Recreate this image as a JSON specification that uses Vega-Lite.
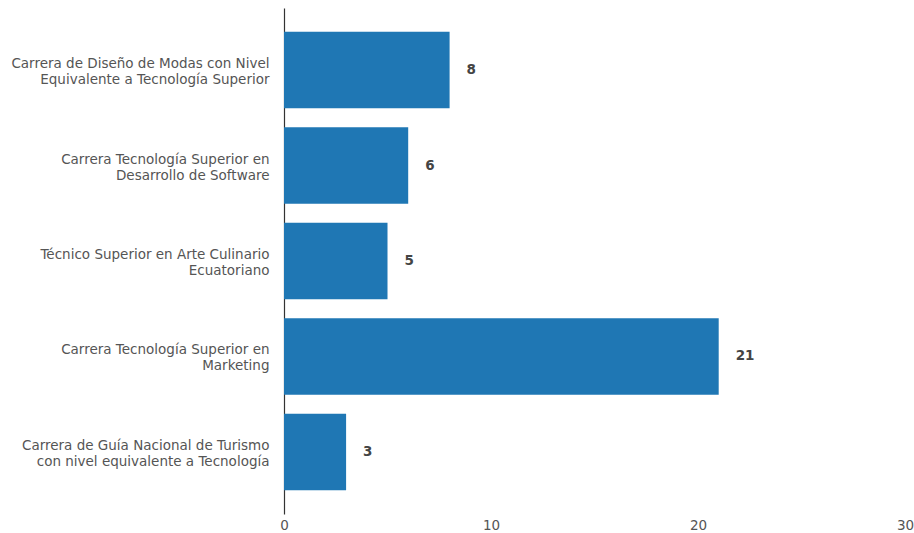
{
  "$schema": "https://vega.github.io/schema/vega-lite/v6.json",
  "width": 621,
  "height": 506,
  "autosize": {"type": "none"},
  "padding": {"left": 284, "top": 8, "right": 9, "bottom": 19},
  "background": "white",
  "config": {"view": {"stroke": null}, "font": "DejaVu Sans"},
  "data": {
    "values": [
      {"carrera": "Carrera de Diseño de Modas con Nivel\nEquivalente a Tecnología Superior", "n": 8},
      {"carrera": "Carrera Tecnología Superior en\nDesarrollo de Software", "n": 6},
      {"carrera": "Técnico Superior en Arte Culinario\nEcuatoriano", "n": 5},
      {"carrera": "Carrera Tecnología Superior en\nMarketing", "n": 21},
      {"carrera": "Carrera de Guía Nacional de Turismo\ncon nivel equivalente a Tecnología", "n": 3}
    ]
  },
  "encoding": {
    "y": {
      "field": "carrera",
      "type": "nominal",
      "sort": null,
      "scale": {"paddingInner": 0.2, "paddingOuter": 0.25},
      "axis": {
        "title": null,
        "ticks": false,
        "labelPadding": 15,
        "labelFontSize": 13.5,
        "labelColor": "#555555",
        "labelLineHeight": 16,
        "labelOffset": -6,
        "labelExpr": "split(datum.value, '\\n')",
        "domainColor": "#333333",
        "domainWidth": 1.2,
        "grid": false,
        "labelLimit": 400
      }
    },
    "x": {
      "field": "n",
      "type": "quantitative",
      "scale": {"domain": [0, 30], "nice": false},
      "axis": {
        "title": null,
        "values": [0, 10, 20, 30],
        "domain": false,
        "ticks": false,
        "tickSize": 0,
        "grid": false,
        "labelPadding": 4,
        "labelFontSize": 13.5,
        "labelColor": "#555555",
        "labelFlush": false
      }
    }
  },
  "layer": [
    {"mark": {"type": "bar", "color": "#1f77b4"}},
    {
      "mark": {"type": "text", "align": "left", "baseline": "middle", "dx": 17, "fontWeight": "bold", "fontSize": 13.5, "color": "#444444"},
      "encoding": {"text": {"field": "n", "type": "quantitative"}}
    }
  ]
}
